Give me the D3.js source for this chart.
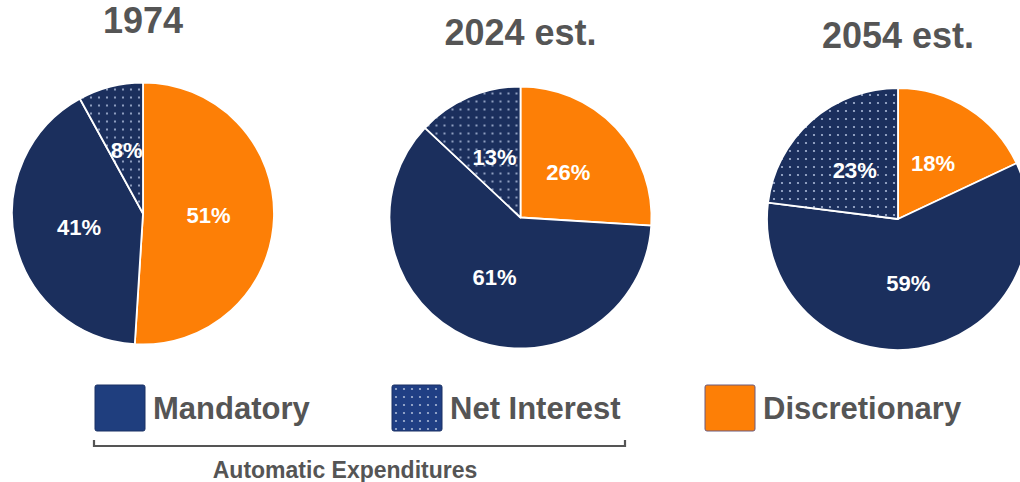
<!DOCTYPE html>
<html>
<head>
<meta charset="utf-8">
<script src="https://cdn.jsdelivr.net/npm/d3@7"></script>
<style>
  html, body { margin: 0; padding: 0; background: #fff; }
  svg { display: block; font-family: "Liberation Sans", Arial, Helvetica, sans-serif; }
</style>
</head>
<body>
<svg id="chart" width="1020" height="482"></svg>
<script>
// Share of federal outlays by spending type
const years = ["1974", "2024 est.", "2054 est."];
const categories = ["Discretionary", "Mandatory", "Net Interest"];
const discretionary = [51, 26, 18];
const mandatory = [41, 61, 59];
const netInterest = [8, 13, 23];
const legendOrder = ["Mandatory", "Net Interest", "Discretionary"];
const groupLabel = "Automatic Expenditures";

// Layout
const W = 1020, H = 482;
const radius = 131;
const pieCenterY = [213.5, 217.5, 219];
const titleBaseline = [33, 45, 48];

const navy = "#1b2f5d";
const orange = "#fd7f06";
const textGray = "#555555";

const svg = d3.select("#chart");
const defs = svg.append("defs");

// Dotted fill for net interest
function dotPattern(id, bg) {
  const p = defs.append("pattern")
    .attr("id", id)
    .attr("patternUnits", "userSpaceOnUse")
    .attr("width", 8).attr("height", 8);
  p.append("rect").attr("width", 8).attr("height", 8).attr("fill", bg);
  p.append("circle").attr("cx", 4).attr("cy", 4).attr("r", 1.1).attr("fill", "#a9b8d6");
}
dotPattern("dotsPie", navy);
dotPattern("dotsLegend", "#203f84");

const fillFor = {
  "Discretionary": orange,
  "Mandatory": navy,
  "Net Interest": "url(#dotsPie)"
};
const legendFill = {
  "Discretionary": orange,
  "Mandatory": "#1f3e7e",
  "Net Interest": "url(#dotsLegend)"
};

const x = d3.scalePoint().domain(years).range([143, 898]);

const pie = d3.pie().sort(null).value(d => d.value);
const arc = d3.arc().innerRadius(0).outerRadius(radius);

years.forEach((year, i) => {
  const rows = [
    { key: "Discretionary", value: discretionary[i] },
    { key: "Mandatory", value: mandatory[i] },
    { key: "Net Interest", value: netInterest[i] }
  ];
  const g = svg.append("g")
    .attr("transform", `translate(${x(year)},${pieCenterY[i]})`);

  const arcs = pie(rows);
  g.selectAll("path")
    .data(arcs)
    .join("path")
    .attr("d", arc)
    .attr("fill", d => fillFor[d.data.key])
    .attr("stroke", "#fff")
    .attr("stroke-width", 1.8)
    .attr("stroke-linejoin", "round");

  g.selectAll("text.val")
    .data(arcs)
    .join("text")
    .attr("class", "val")
    .attr("transform", d => `translate(${arc.centroid(d)})`)
    .attr("text-anchor", "middle")
    .attr("dy", "0.35em")
    .attr("fill", "#fff")
    .attr("font-weight", "bold")
    .attr("font-size", 22)
    .text(d => d.data.value + "%");

  svg.append("text")
    .attr("x", x(year))
    .attr("y", titleBaseline[i])
    .attr("text-anchor", "middle")
    .attr("fill", textGray)
    .attr("font-weight", "bold")
    .attr("font-size", 36)
    .text(year);
});

// Legend
const legendX = { "Mandatory": 95, "Net Interest": 392, "Discretionary": 705 };
const legend = svg.append("g");
legendOrder.forEach(name => {
  const lg = legend.append("g").attr("transform", `translate(${legendX[name]},385)`);
  lg.append("rect")
    .attr("width", 50).attr("height", 46)
    .attr("rx", 2)
    .attr("fill", legendFill[name])
    .attr("stroke", name === "Discretionary" ? "#6b5a7e" : "#1a3165")
    .attr("stroke-width", 1);
  lg.append("text")
    .attr("x", 58)
    .attr("y", 34)
    .attr("fill", textGray)
    .attr("font-weight", "bold")
    .attr("font-size", 31)
    .text(name);
});

// Bracket grouping mandatory and net interest
svg.append("path")
  .attr("d", "M94,440 V446 H625 V440")
  .attr("fill", "none")
  .attr("stroke", textGray)
  .attr("stroke-width", 2.2);

svg.append("text")
  .attr("x", 345)
  .attr("y", 478)
  .attr("text-anchor", "middle")
  .attr("fill", textGray)
  .attr("font-weight", "bold")
  .attr("font-size", 23)
  .text(groupLabel);
</script>
</body>
</html>
